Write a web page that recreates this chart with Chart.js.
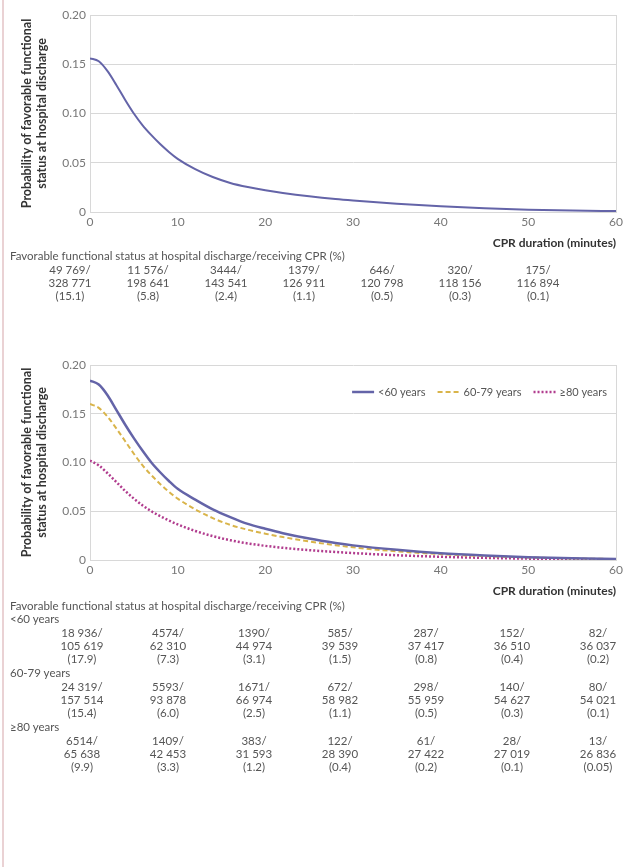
<!DOCTYPE html>
<html>
<head>
<meta charset="utf-8">
<script src="https://cdn.jsdelivr.net/npm/chart.js@4.4.0/dist/chart.umd.min.js"></script>
<style>
  html, body { margin: 0; padding: 0; background: #fff; }
  body { width: 644px; height: 867px; position: relative; overflow: hidden; font-family: Lato, 'Open Sans', sans-serif; color: #555; }
  .edge { position: absolute; left: 2px; top: 0; width: 2px; height: 867px; background: #ead2d4; }
  canvas { position: absolute; left: 0; }
  .tbl { position: absolute; left: 0; top: 0; width: 644px; font-size: 11.5px; line-height: 14px; }
  .tbl div { position: absolute; white-space: nowrap; }
  .tbl .head { left: 10px; }
  .tbl .cell { width: 80px; margin-left: -40px; text-align: center; }
</style>
</head>
<body>
<div class="edge"></div>
<canvas id="overallChart" width="644" height="254" style="top:0"></canvas>
<canvas id="ageChart" width="644" height="252" style="top:350px"></canvas>
<div class="tbl" id="tables"></div>

<script>
// CPR duration (minutes) at which the curves are sampled
const minutes = [0, 1, 2, 3, 4, 5, 6, 7, 8, 9, 10, 12, 14, 16, 18, 20, 22, 25, 28, 30, 35, 40, 45, 50, 55, 60];

// Probability of favorable functional status at hospital discharge
const probAll = [0.156, 0.153, 0.143, 0.129, 0.114, 0.100, 0.088, 0.078, 0.069, 0.061, 0.054, 0.0435, 0.0355, 0.0295, 0.0253, 0.022, 0.0193, 0.0159, 0.0131, 0.0116, 0.0084, 0.0058, 0.0038, 0.0024, 0.0015, 0.0009];
const probUnder60 = [0.184, 0.180, 0.169, 0.154, 0.139, 0.125, 0.112, 0.100, 0.090, 0.081, 0.073, 0.062, 0.052, 0.044, 0.037, 0.032, 0.0275, 0.022, 0.0175, 0.015, 0.0104, 0.0069, 0.0046, 0.0029, 0.0018, 0.0011];
const prob60to79 = [0.160, 0.156, 0.147, 0.135, 0.122, 0.109, 0.097, 0.087, 0.078, 0.070, 0.063, 0.052, 0.043, 0.036, 0.031, 0.027, 0.0235, 0.019, 0.0152, 0.013, 0.0089, 0.006, 0.004, 0.0026, 0.0016, 0.001];
const prob80plus = [0.102, 0.097, 0.089, 0.080, 0.071, 0.063, 0.056, 0.050, 0.045, 0.0405, 0.0365, 0.0298, 0.0245, 0.0203, 0.017, 0.0145, 0.0125, 0.0101, 0.0082, 0.0071, 0.0049, 0.0033, 0.0022, 0.0014, 0.0009, 0.0006];

const ageLabels = ['<60 years', '60-79 years', '\u226580 years'];

// Counts under the charts: favorable status / patients receiving CPR (%)
const allEvents = [49769, 11576, 3444, 1379, 646, 320, 175];
const allTotals = [328771, 198641, 143541, 126911, 120798, 118156, 116894];
const allPct = ['15.1', '5.8', '2.4', '1.1', '0.5', '0.3', '0.1'];

const under60Events = [18936, 4574, 1390, 585, 287, 152, 82];
const under60Totals = [105619, 62310, 44974, 39539, 37417, 36510, 36037];
const under60Pct = ['17.9', '7.3', '3.1', '1.5', '0.8', '0.4', '0.2'];

const mid60Events = [24319, 5593, 1671, 672, 298, 140, 80];
const mid60Totals = [157514, 93878, 66974, 58982, 55959, 54627, 54021];
const mid60Pct = ['15.4', '6.0', '2.5', '1.1', '0.5', '0.3', '0.1'];

const over80Events = [6514, 1409, 383, 122, 61, 28, 13];
const over80Totals = [65638, 42453, 31593, 28390, 27422, 27019, 26836];
const over80Pct = ['9.9', '3.3', '1.2', '0.4', '0.2', '0.1', '0.05'];

const tableTitle = 'Favorable functional status at hospital discharge/receiving CPR (%)';

const FONT = 'Lato';
const GRID = '#d8d8d8';

function points(ys) {
  return minutes.map((m, i) => ({ x: m, y: ys[i] }));
}

// legend drawn inside the plot, top right
const insideLegend = {
  id: 'insideLegend',
  afterDraw(chart, args, opts) {
    if (!opts.display) return;
    const ctx = chart.ctx;
    const area = chart.chartArea;
    const y = area.top + 27;
    let x = area.right - 9;
    ctx.save();
    ctx.font = '11px ' + FONT;
    ctx.textBaseline = 'middle';
    for (let i = chart.data.datasets.length - 1; i >= 0; i--) {
      const ds = chart.data.datasets[i];
      const w = ctx.measureText(ds.label).width;
      x -= w;
      ctx.fillStyle = '#555';
      ctx.fillText(ds.label, x, y);
      x -= 4;
      ctx.beginPath();
      ctx.strokeStyle = ds.borderColor;
      ctx.lineWidth = ds.borderWidth;
      ctx.setLineDash(ds.borderDash || []);
      ctx.moveTo(x - 22, y);
      ctx.lineTo(x, y);
      ctx.stroke();
      x -= 22 + 12;
    }
    ctx.restore();
  }
};

function makeChart(id, datasets, legend) {
  return new Chart(document.getElementById(id), {
    type: 'line',
    data: { datasets: datasets },
    options: {
      responsive: false,
      animation: false,
      devicePixelRatio: 1,
      layout: { padding: { left: 17, right: 28, top: 15, bottom: 0 } },
      elements: { point: { radius: 0 }, line: { cubicInterpolationMode: 'monotone' } },
      scales: {
        x: {
          type: 'linear',
          min: 0,
          max: 60,
          afterFit: s => { s.height = 42; },
          ticks: { stepSize: 10, padding: 3, color: '#777', font: { family: FONT, size: 12 } },
          grid: {
            drawTicks: false,
            color: c => (c.tick && c.tick.value === 60 ? GRID : 'transparent')
          },
          border: { color: GRID },
          title: {
            display: true,
            text: 'CPR duration (minutes)',
            align: 'end',
            color: '#333',
            padding: { top: 0, bottom: 4 },
            font: { family: FONT, size: 12, weight: 'bold' }
          }
        },
        y: {
          min: 0,
          max: 0.2,
          afterFit: s => { s.width = 73; },
          ticks: {
            stepSize: 0.05,
            padding: 4,
            color: '#777',
            font: { family: FONT, size: 12 },
            callback: v => (v === 0 ? '0' : v.toFixed(2))
          },
          grid: { drawTicks: false, color: GRID },
          border: { color: GRID },
          title: {
            display: true,
            text: ['Probability of favorable functional', 'status at hospital discharge'],
            color: '#333',
            padding: { top: 3, bottom: 0 },
            font: { family: FONT, size: 12.5, weight: 'bold', lineHeight: 1.15 }
          }
        }
      },
      plugins: {
        legend: { display: false },
        tooltip: { enabled: false },
        insideLegend: { display: legend }
      }
    },
    plugins: [insideLegend]
  });
}

makeChart('overallChart', [
  { label: 'All', data: points(probAll), borderColor: '#6464a8', borderWidth: 2 }
], false);

makeChart('ageChart', [
  { label: ageLabels[0], data: points(probUnder60), borderColor: '#6464a8', borderWidth: 2.5 },
  { label: ageLabels[1], data: points(prob60to79), borderColor: '#d9b44a', borderWidth: 2, borderDash: [5, 3] },
  { label: ageLabels[2], data: points(prob80plus), borderColor: '#b13c8e', borderWidth: 2.5, borderDash: [2, 2] }
], true);

// count tables
const topCols = [70, 148, 226, 304, 382, 460, 538];
const ageCols = [82, 168, 254, 340, 426, 512, 598];

function fmt(n) {
  return n >= 10000 ? String(n).replace(/\B(?=(\d{3})+(?!\d))/g, ' ') : String(n);
}

const tables = document.getElementById('tables');
function addText(text, cls, x, yCenter) {
  const d = document.createElement('div');
  d.className = cls;
  d.textContent = text;
  if (x !== null) d.style.left = x + 'px';
  d.style.top = (yCenter - 7) + 'px';
  tables.appendChild(d);
}
function addRows(cols, events, totals, pct, y) {
  cols.forEach((cx, i) => {
    addText(fmt(events[i]) + '/', 'cell', cx, y);
    addText(fmt(totals[i]), 'cell', cx, y + 13);
    addText('(' + pct[i] + ')', 'cell', cx, y + 26);
  });
}

addText(tableTitle, 'head', null, 256);
addRows(topCols, allEvents, allTotals, allPct, 270);

addText(tableTitle, 'head', null, 606);
addText(ageLabels[0], 'head', null, 619);
addRows(ageCols, under60Events, under60Totals, under60Pct, 633);
addText(ageLabels[1], 'head', null, 673);
addRows(ageCols, mid60Events, mid60Totals, mid60Pct, 687);
addText(ageLabels[2], 'head', null, 727);
addRows(ageCols, over80Events, over80Totals, over80Pct, 741);
</script>
</body>
</html>
